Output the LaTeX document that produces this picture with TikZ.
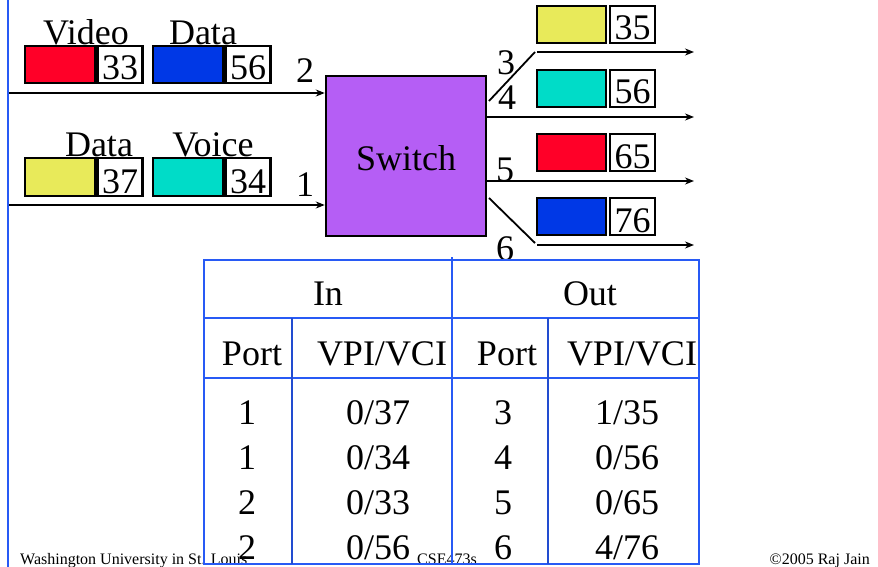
\documentclass[tikz,border=0pt]{standalone}
\usepackage{fontspec}
\setmainfont{Liberation Serif}
\usetikzlibrary{arrows.meta}
\definecolor{cellred}{RGB}{255,0,40}
\definecolor{cellblue}{RGB}{0,56,230}
\definecolor{cellyellow}{RGB}{232,234,90}
\definecolor{cellcyan}{RGB}{0,220,200}
\definecolor{swpurple}{RGB}{181,94,245}
\definecolor{tblue}{RGB}{40,90,245}
\begin{document}
\begin{tikzpicture}[x=1pt,y=-1pt,
  big/.style={font=\fontsize{36}{40}\selectfont, inner sep=0pt},
  foot/.style={font=\fontsize{16}{18}\selectfont, inner sep=0pt},
  cellbox/.style={draw=black, line width=2.5pt},
  numbox/.style={draw=black, line width=2.5pt, fill=white},
  link/.style={line width=1.8pt, draw=black},
  arr/.style={link, -{Stealth[length=9pt,width=7pt]}},
  tline/.style={draw=tblue, line width=1.3pt},
  tthick/.style={draw=tblue!85!black, line width=2.2pt}]
\useasboundingbox (0,0) rectangle (878,567);
% left rule
\draw[draw=tblue, line width=2pt] (8,0) -- (8,567);
% switch
\node[draw=black, line width=2.5pt, fill=swpurple, minimum width=160pt, minimum height=160pt, inner sep=0pt] (sw) at (406,156) {};
\node[big] (swl) at (406,158) {Switch};
% input lines
\coordinate (in2) at (9,93);
\coordinate (in1) at (9,205);
\draw[arr] (in2) -- (in2 -| sw.west);
\draw[arr] (in1) -- (in1 -| sw.west);
\node[big, anchor=base] (p2) at (305,83) {2};
\node[big, anchor=base] (p1) at (305,196) {1};
% input cells row 1
\node[cellbox, fill=cellred, minimum width=70pt, minimum height=37pt, inner sep=0pt] (c1a) at (60,64.5) {};
\node[numbox, minimum width=45pt, minimum height=37pt] (n1a) at (120,64.5) {};
\node[big, anchor=base] (t1a) at (120,80) {33};
\node[cellbox, fill=cellblue, minimum width=70pt, minimum height=37pt, inner sep=0pt] (c1b) at (188,64.5) {};
\node[numbox, minimum width=45pt, minimum height=37pt] (n1b) at (248,64.5) {};
\node[big, anchor=base] (t1b) at (248,80) {56};
\node[big, anchor=base] (l1a) at (86,45) {Video};
\node[big, anchor=base] (l1b) at (203,45) {Data};
% input cells row 2
\node[cellbox, fill=cellyellow, minimum width=70pt, minimum height=38pt, inner sep=0pt] (c2a) at (60,177) {};
\node[numbox, minimum width=45pt, minimum height=38pt] (n2a) at (120,177) {};
\node[big, anchor=base] (t2a) at (120,193) {37};
\node[cellbox, fill=cellcyan, minimum width=70pt, minimum height=38pt, inner sep=0pt] (c2b) at (188,177) {};
\node[numbox, minimum width=45pt, minimum height=38pt] (n2b) at (248,177) {};
\node[big, anchor=base] (t2b) at (248,193) {34};
\node[big, anchor=base] (l2a) at (99,157) {Data};
\node[big, anchor=base] (l2b) at (213,157) {Voice};
% output lines
\coordinate (o3a) at (489,101);
\coordinate (o3b) at (535,52);
\coordinate (o3c) at (537,52);
\coordinate (o3e) at (694,52);
\draw[link] (o3a) -- (o3b);
\draw[arr] (o3c) -- (o3e);
\coordinate (o4e) at (694,117);
\draw[arr] (sw.east |- o4e) -- (o4e);
\coordinate (o5e) at (694,181);
\draw[arr] (sw.east |- o5e) -- (o5e);
\coordinate (o6a) at (489,198);
\coordinate (o6b) at (535,243);
\coordinate (o6c) at (537,245);
\coordinate (o6e) at (694,245);
\draw[link] (o6a) -- (o6b);
\draw[arr] (o6c) -- (o6e);
\node[big, anchor=base] (p3) at (506,75) {3};
\node[big, anchor=base] (p4) at (507,110) {4};
\node[big, anchor=base] (p5) at (505,181) {5};
\node[big, anchor=base] (p6) at (505,260) {6};
% output cells
\foreach \nm/\col/\yc/\num in {a/cellyellow/24.5/35, b/cellcyan/88.5/56, c/cellred/152.5/65, d/cellblue/216.5/76}{
  \node[cellbox, fill=\col, minimum width=69pt, minimum height=37pt, inner sep=0pt] (oc\nm) at (571.5,\yc) {};
  \node[numbox, minimum width=45pt, minimum height=37pt] (on\nm) at (632.5,\yc) {};
  \node[big, anchor=base] (ot\nm) at (632.5,\yc+15.5) {\num};
}
% footer
\node[foot, anchor=base west] (f1) at (20,564) {Washington University in St. Louis};
\node[foot, anchor=base] (f2) at (447,564) {CSE473s};
\node[foot, anchor=base east] (f3) at (870,564) {\textcopyright2005 Raj Jain};
% table
\draw[tline] (204,260) rectangle (699,564);
\draw[tline] (204,318) -- (699,318);
\draw[tline] (204,378) -- (699,378);
\draw[tline] (452,257) -- (452,564);
\draw[tthick] (292,318) -- (292,564);
\draw[tthick] (548,318) -- (548,564);
\node[big] (hin) at (328,294) {In};
\node[big] (hout) at (590,294) {Out};
\node[big] (h1) at (252,354) {Port};
\node[big] (h2) at (382,354) {VPI/VCI};
\node[big] (h3) at (507,354) {Port};
\node[big] (h4) at (632,354) {VPI/VCI};
\foreach \y/\a/\b/\c/\d in {413/1/0\slash 37/3/1\slash 35, 458/1/0\slash 34/4/0\slash 56, 503/2/0\slash 33/5/0\slash 65, 548/2/0\slash 56/6/4\slash 76}{
  \node[big] at (247,\y) {\a};
  \node[big] at (378,\y) {\b};
  \node[big] at (503,\y) {\c};
  \node[big] at (627,\y) {\d};
}
\end{tikzpicture}
\end{document}
